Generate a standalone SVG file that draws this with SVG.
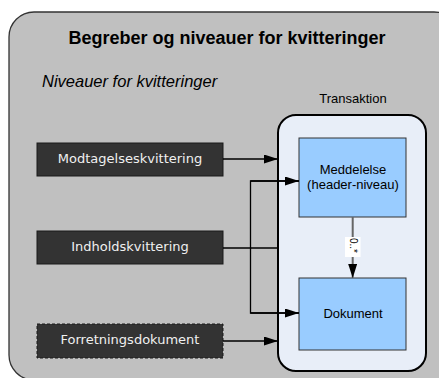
<svg xmlns="http://www.w3.org/2000/svg" width="439" height="378" viewBox="0 0 439 378">
<style>
.t{font-family:"Liberation Sans",Arial,sans-serif;fill:#000}
.dk{fill:#333;stroke:#1a1a1a;stroke-width:1}
.dl{font-family:"DejaVu Sans",Verdana,sans-serif;font-size:13px;fill:#f0f0f0;text-anchor:middle}
.bl{fill:#99ccff;stroke:#333;stroke-width:1}
.c{fill:none;stroke:#000;stroke-width:1.3}
</style>
<defs>
<marker id="ah" viewBox="0 0 14 9" refX="14" refY="4.5" markerWidth="14" markerHeight="9" markerUnits="userSpaceOnUse" orient="auto">
<path d="M0,0 L14,4.5 L0,9 z" fill="#000"/>
</marker>
</defs>
<rect width="439" height="378" fill="#fff"/>
<rect x="9" y="12" width="450" height="368" rx="25" fill="#c0c0c0" stroke="#333" stroke-width="1.3"/>
<text class="t" x="227" y="44" font-size="18" font-weight="bold" text-anchor="middle">Begreber og niveauer for kvitteringer</text>
<text class="t" x="42" y="87" font-size="16.5" font-style="italic">Niveauer for kvitteringer</text>
<text class="t" x="353" y="103" font-size="13" text-anchor="middle">Transaktion</text>
<g id="transaktion">
<rect x="278" y="115" width="148" height="256" rx="18" fill="#e8eef8" stroke="#000" stroke-width="2"/>
</g>
<g id="meddelelse">
<rect class="bl" x="299" y="138" width="107" height="79"/>
<text class="t" x="353" y="174" font-size="13" text-anchor="middle">Meddelelse</text>
<text class="t" x="353" y="189" font-size="13" text-anchor="middle">(header-niveau)</text>
</g>
<g id="dokument">
<rect class="bl" x="299" y="278" width="107" height="72"/>
<text class="t" x="353" y="318" font-size="13" text-anchor="middle">Dokument</text>
</g>
<g id="modtagelseskvittering">
<rect class="dk" x="37" y="143" width="186" height="33"/>
<text class="dl" x="130" y="162.5">Modtagelseskvittering</text>
</g>
<g id="indholdskvittering">
<rect class="dk" x="37" y="231" width="186" height="33"/>
<text class="dl" x="130" y="251">Indholdskvittering</text>
</g>
<g id="forretningsdokument">
<rect class="dk" x="37" y="324" width="186" height="34" stroke-dasharray="3,2" stroke="#777"/>
<text class="dl" x="130" y="344">Forretningsdokument</text>
</g>
<g id="connectors">
<line class="c" x1="223" y1="159" x2="278" y2="159" marker-end="url(#ah)"/>
<line class="c" x1="223" y1="248" x2="278" y2="248" stroke="#333"/>
<line class="c" x1="223" y1="341" x2="278" y2="341" marker-end="url(#ah)"/>
<polyline class="c" points="299,181 250.5,181 250.5,313 299,313"/>
<line class="c" x1="250.5" y1="181" x2="299" y2="181" marker-end="url(#ah)"/>
<line class="c" x1="250.5" y1="313" x2="299" y2="313" marker-end="url(#ah)"/>
<line x1="352.7" y1="217" x2="352.7" y2="278" stroke="#666" stroke-width="2" marker-end="url(#ah)"/>
<rect x="345" y="237" width="15.5" height="20" fill="#fff"/>
<text class="t" x="0" y="0" font-size="10" transform="translate(349.5,238) rotate(90)">0..*</text>
</g>
</svg>
